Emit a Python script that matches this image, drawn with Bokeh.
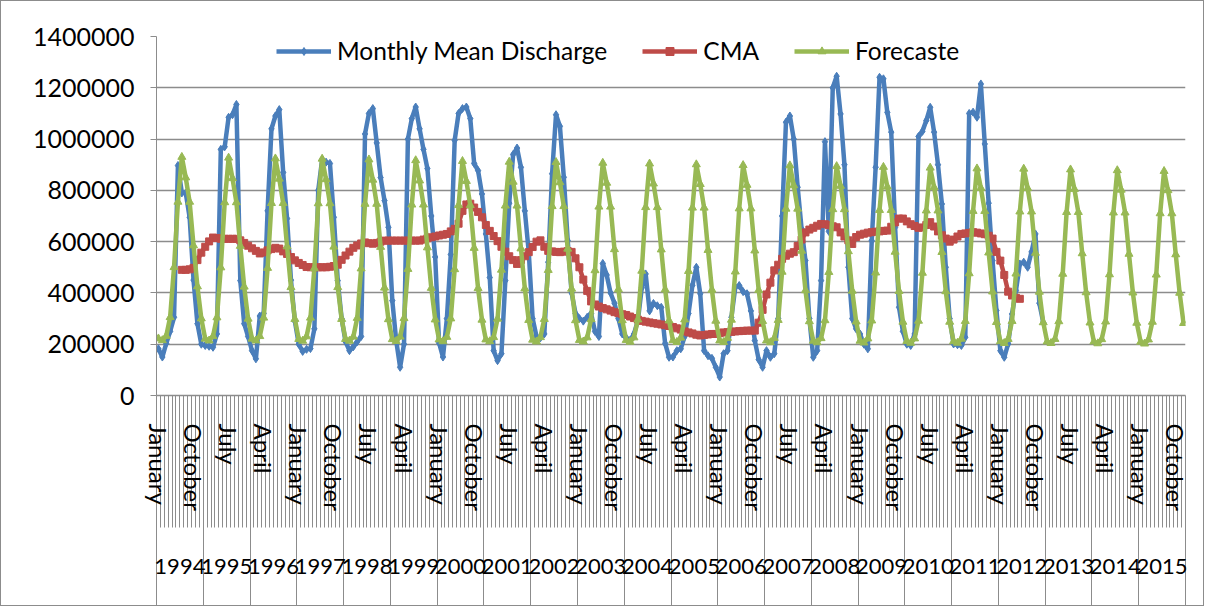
from bokeh.plotting import figure
from bokeh.models import (Range1d, FixedTicker, LinearAxis, Legend, LegendItem,
                          ColumnDataSource, NumeralTickFormatter, CustomJSTickFormatter)
from bokeh.embed import file_html
from bokeh.resources import INLINE

# ---------------- data ----------------
MONTHS = ["January", "February", "March", "April", "May", "June", "July",
          "August", "September", "October", "November", "December"]
YEARS = list(range(1994, 2016))
Y_TICKS = [0, 200000, 400000, 600000, 800000, 1000000, 1200000, 1400000]

# Monthly Mean Discharge, January 1994 - December 2012
discharge = [
    182000, 150000, 203000, 250000, 305000, 897000, 790000, 790000, 695000, 450000, 280000, 200000,
    195000, 192000, 188000, 240000, 960000, 970000, 1085000, 1095000, 1135000, 448000, 280000, 230000,
    175000, 143000, 310000, 320000, 720000, 1040000, 1090000, 1115000, 870000, 690000, 450000, 290000,
    200000, 172000, 180000, 183000, 260000, 800000, 920000, 910000, 905000, 695000, 448000, 300000,
    210000, 175000, 190000, 210000, 230000, 1020000, 1100000, 1119000, 985000, 850000, 760000, 656000,
    370000, 214000, 110000, 200000, 1000000, 1080000, 1125000, 1040000, 960000, 885000, 700000, 540000,
    205000, 150000, 300000, 550000, 995000, 1100000, 1119000, 1125000, 1080000, 905000, 877000, 786000,
    630000, 460000, 175000, 136000, 163000, 448000, 750000, 940000, 965000, 890000, 720000, 560000,
    300000, 230000, 225000, 240000, 520000, 865000, 1095000, 1050000, 851000, 604000, 400000, 320000,
    300000, 290000, 305000, 320000, 250000, 230000, 515000, 470000, 400000, 360000, 300000, 240000,
    225000, 215000, 240000, 292000, 420000, 474000, 330000, 359000, 350000, 344000, 203000, 149000,
    150000, 175000, 182000, 230000, 320000, 430000, 500000, 397000, 175000, 155000, 145000, 110000,
    72000, 163000, 175000, 305000, 422000, 429000, 405000, 397000, 330000, 214000, 140000, 110000,
    175000, 149000, 163000, 300000, 700000, 1066000, 1090000, 1000000, 812000, 650000, 526000, 300000,
    149000, 175000, 448000, 990000, 640000, 1200000, 1245000, 1098000, 900000, 500000, 300000, 260000,
    240000, 200000, 182000, 604000, 890000, 1241000, 1235000, 1104000, 1027000, 656000, 344000, 250000,
    200000, 195000, 240000, 1010000, 1030000, 1072000, 1124000, 1027000, 900000, 747000, 500000, 300000,
    201000, 198000, 195000, 227000, 1100000, 1105000, 1085000, 1215000, 981000, 750000, 526000, 331000,
    175000, 149000, 201000, 318000, 409000, 513000, 520000, 500000, 560000, 630000, 360000, 285000,
]

# Centred moving average, July 1994 - June 2012
CMA_START = 6  # first month (index) that has a CMA value
cma = [
    490000, 490000, 492000, 498000, 528000, 557000,
    580000, 601000, 616000, 614000, 611000, 611000, 611000, 611000, 611000, 605000, 595000, 584000,
    574000, 564000, 554000, 558000, 566000, 571000, 576000, 573000, 562000, 552000, 540000, 527000,
    517000, 509000, 501000, 500000, 500000, 500000, 500000, 500000, 502000, 505000, 510000, 529000,
    546000, 561000, 576000, 585000, 593000, 597000, 594000, 592000, 595000, 600000, 604000, 604000,
    604000, 604000, 604000, 604000, 604000, 604000, 604000, 604000, 608000, 613000, 617000, 620000,
    624000, 627000, 630000, 640000, 650000, 670000, 720000, 745000, 748000, 733000, 716000, 695000,
    665000, 642000, 622000, 602000, 580000, 561000, 543000, 528000, 513000, 528000, 543000, 559000,
    579000, 600000, 605000, 580000, 564000, 562000, 560000, 559000, 561000, 563000, 560000, 535000,
    500000, 452000, 408000, 367000, 355000, 347000, 341000, 336000, 331000, 325000, 321000, 317000,
    314000, 308000, 302000, 296000, 291000, 288000, 285000, 282000, 280000, 277000, 274000, 271000,
    267000, 262000, 257000, 250000, 246000, 242000, 237000, 234000, 236000, 238000, 240000, 240000,
    243000, 246000, 247000, 248000, 250000, 251000, 252000, 253000, 253000, 253000, 284000, 334000,
    394000, 440000, 488000, 510000, 533000, 545000, 553000, 559000, 583000, 608000, 636000, 647000,
    654000, 662000, 669000, 668000, 664000, 660000, 656000, 636000, 620000, 605000, 591000, 618000,
    627000, 631000, 635000, 637000, 639000, 640000, 642000, 643000, 658000, 675000, 690000, 690000,
    679000, 668000, 661000, 654000, 655000, 665000, 676000, 659000, 640000, 625000, 612000, 600000,
    608000, 620000, 630000, 632000, 634000, 637000, 635000, 632000, 629000, 623000, 612000, 560000,
    526000, 470000, 405000, 390000, 381000, 377000,
]

# Forecast, January 1994 - December 2015
forecast = [
    222000, 215000, 232000, 305000, 500000, 755000, 930000, 850000, 755000, 585000, 425000, 300000,
    221000, 214000, 231000, 304000, 499000, 753000, 927000, 847000, 753000, 583000, 424000, 299000,
    221000, 214000, 231000, 303000, 497000, 750000, 924000, 845000, 750000, 581000, 422000, 298000,
    220000, 213000, 230000, 303000, 496000, 749000, 923000, 843000, 749000, 580000, 422000, 298000,
    220000, 213000, 229000, 302000, 495000, 747000, 920000, 841000, 747000, 579000, 420000, 297000,
    219000, 212000, 229000, 301000, 493000, 744000, 917000, 838000, 744000, 577000, 419000, 296000,
    218000, 211000, 228000, 300000, 492000, 742000, 914000, 836000, 742000, 575000, 418000, 295000,
    218000, 211000, 227000, 299000, 490000, 740000, 911000, 833000, 740000, 573000, 417000, 294000,
    217000, 210000, 227000, 298000, 489000, 738000, 910000, 831000, 738000, 572000, 416000, 293000,
    216000, 210000, 226000, 297000, 488000, 736000, 907000, 829000, 736000, 570000, 414000, 293000,
    216000, 209000, 226000, 296000, 486000, 734000, 904000, 826000, 734000, 569000, 413000, 292000,
    215000, 208000, 225000, 296000, 485000, 732000, 901000, 824000, 732000, 567000, 412000, 291000,
    214000, 208000, 224000, 295000, 483000, 729000, 898000, 821000, 729000, 565000, 411000, 290000,
    214000, 207000, 224000, 294000, 482000, 728000, 897000, 819000, 728000, 564000, 410000, 289000,
    213000, 207000, 223000, 293000, 481000, 726000, 894000, 817000, 726000, 562000, 408000, 288000,
    213000, 206000, 222000, 292000, 479000, 723000, 891000, 814000, 723000, 560000, 407000, 287000,
    212000, 205000, 222000, 291000, 478000, 721000, 888000, 812000, 721000, 559000, 406000, 287000,
    211000, 205000, 221000, 290000, 476000, 719000, 885000, 809000, 719000, 557000, 405000, 286000,
    211000, 204000, 220000, 290000, 475000, 717000, 884000, 808000, 717000, 556000, 404000, 285000,
    210000, 204000, 220000, 289000, 474000, 715000, 881000, 805000, 715000, 554000, 402000, 284000,
    210000, 203000, 219000, 288000, 472000, 713000, 878000, 802000, 713000, 552000, 401000, 283000,
    209000, 202000, 218000, 287000, 471000, 710000, 875000, 800000, 710000, 550000, 400000, 282000,
]

# ---------------- styling ----------------
BLUE = "#4A7EBB"
RED = "#BE4B48"
GREEN = "#98B954"
GRID = "#8C8C8C"
FONT = "Lato"

N = len(MONTHS) * len(YEARS)          # 264 monthly categories
xc = [i + 0.5 for i in range(N)]      # category centres

p = figure(width=1204, height=606, output_backend="svg", toolbar_location=None,
           x_range=Range1d(0, N), y_range=Range1d(0, 1400000),
           min_border_left=155, min_border_right=20, min_border_top=35, min_border_bottom=212)
p.styles = {"border": "1px solid #8C8C8C"}
p.outline_line_color = None
p.background_fill_color = "white"
p.border_fill_color = "white"

# y axis
ya = p.yaxis[0]
ya.ticker = FixedTicker(ticks=Y_TICKS)
ya.formatter = NumeralTickFormatter(format="0")
ya.major_tick_out = 6
ya.major_tick_in = 0
ya.minor_tick_line_color = None
ya.axis_line_color = GRID
ya.major_tick_line_color = GRID
ya.major_label_standoff = 16
ya.major_label_text_font = FONT
ya.major_label_text_font_size = "25px"
ya.major_label_text_color = "black"

p.ygrid.ticker = FixedTicker(ticks=Y_TICKS)
p.ygrid.grid_line_color = GRID
p.ygrid.grid_line_width = 1.5
p.xgrid.visible = False

# x axis 1: month labels + category tick lines
xa = p.xaxis[0]
xa.ticker = FixedTicker(ticks=[i + 0.5 for i in range(0, N, 9)],
                        minor_ticks=list(range(0, N + 1)))
xa.formatter = CustomJSTickFormatter(args=dict(months=MONTHS),
                                     code="return months[Math.floor(tick) % 12];")
xa.major_label_orientation = "vertical"
xa.major_tick_out = 0
xa.major_tick_in = 0
xa.minor_tick_out = 132
xa.minor_tick_in = 0
xa.minor_tick_line_color = GRID
xa.minor_tick_line_width = 1
xa.axis_line_color = GRID
xa.axis_line_width = 1.5
xa.major_label_standoff = -104
xa.major_label_text_font = FONT
xa.major_label_text_font_size = "24px"
xa.major_label_text_color = "black"

# x axis 2: years + year separators
xa2 = LinearAxis(
    ticker=FixedTicker(ticks=[12 * k + 6 for k in range(len(YEARS))],
                       minor_ticks=[12 * k for k in range(len(YEARS) + 1)]),
    formatter=CustomJSTickFormatter(args=dict(years=YEARS),
                                    code="return String(years[Math.floor(tick / 12)]);"))
xa2.axis_line_color = None
xa2.major_tick_out = 0
xa2.major_tick_in = 0
xa2.minor_tick_out = 99
xa2.minor_tick_in = 0
xa2.minor_tick_line_color = GRID
xa2.major_label_standoff = -55
xa2.major_label_text_font = FONT
xa2.major_label_text_font_size = "22px"
xa2.major_label_text_color = "black"
p.add_layout(xa2, "below")

# series
src_d = ColumnDataSource(dict(x=xc[:len(discharge)], y=discharge))
src_c = ColumnDataSource(dict(x=xc[CMA_START:CMA_START + len(cma)], y=cma))
src_f = ColumnDataSource(dict(x=xc[:len(forecast)], y=forecast))

l1 = p.line("x", "y", source=src_d, line_color=BLUE, line_width=4.5)
s1 = p.scatter("x", "y", source=src_d, marker="diamond", size=8, color=BLUE)
l2 = p.line("x", "y", source=src_c, line_color=RED, line_width=4.5)
s2 = p.scatter("x", "y", source=src_c, marker="square", size=7, color=RED)
l3 = p.line("x", "y", source=src_f, line_color=GREEN, line_width=4.5)
s3 = p.scatter("x", "y", source=src_f, marker="triangle", size=8, color=GREEN)

legend = Legend(items=[
    LegendItem(label="Monthly Mean Discharge", renderers=[l1, s1]),
    LegendItem(label="CMA", renderers=[l2, s2]),
    LegendItem(label="Forecaste", renderers=[l3, s3]),
], orientation="horizontal", location=(120, 330))
legend.glyph_width = 55
legend.glyph_height = 20
legend.label_standoff = 6
legend.spacing = 35
legend.padding = 0
legend.margin = 0
legend.background_fill_alpha = 0
legend.border_line_color = None
legend.label_text_font = FONT
legend.label_text_font_size = "24.5px"
legend.label_text_color = "black"
p.add_layout(legend, "center")

open("out.html", "w").write(file_html(p, INLINE))
